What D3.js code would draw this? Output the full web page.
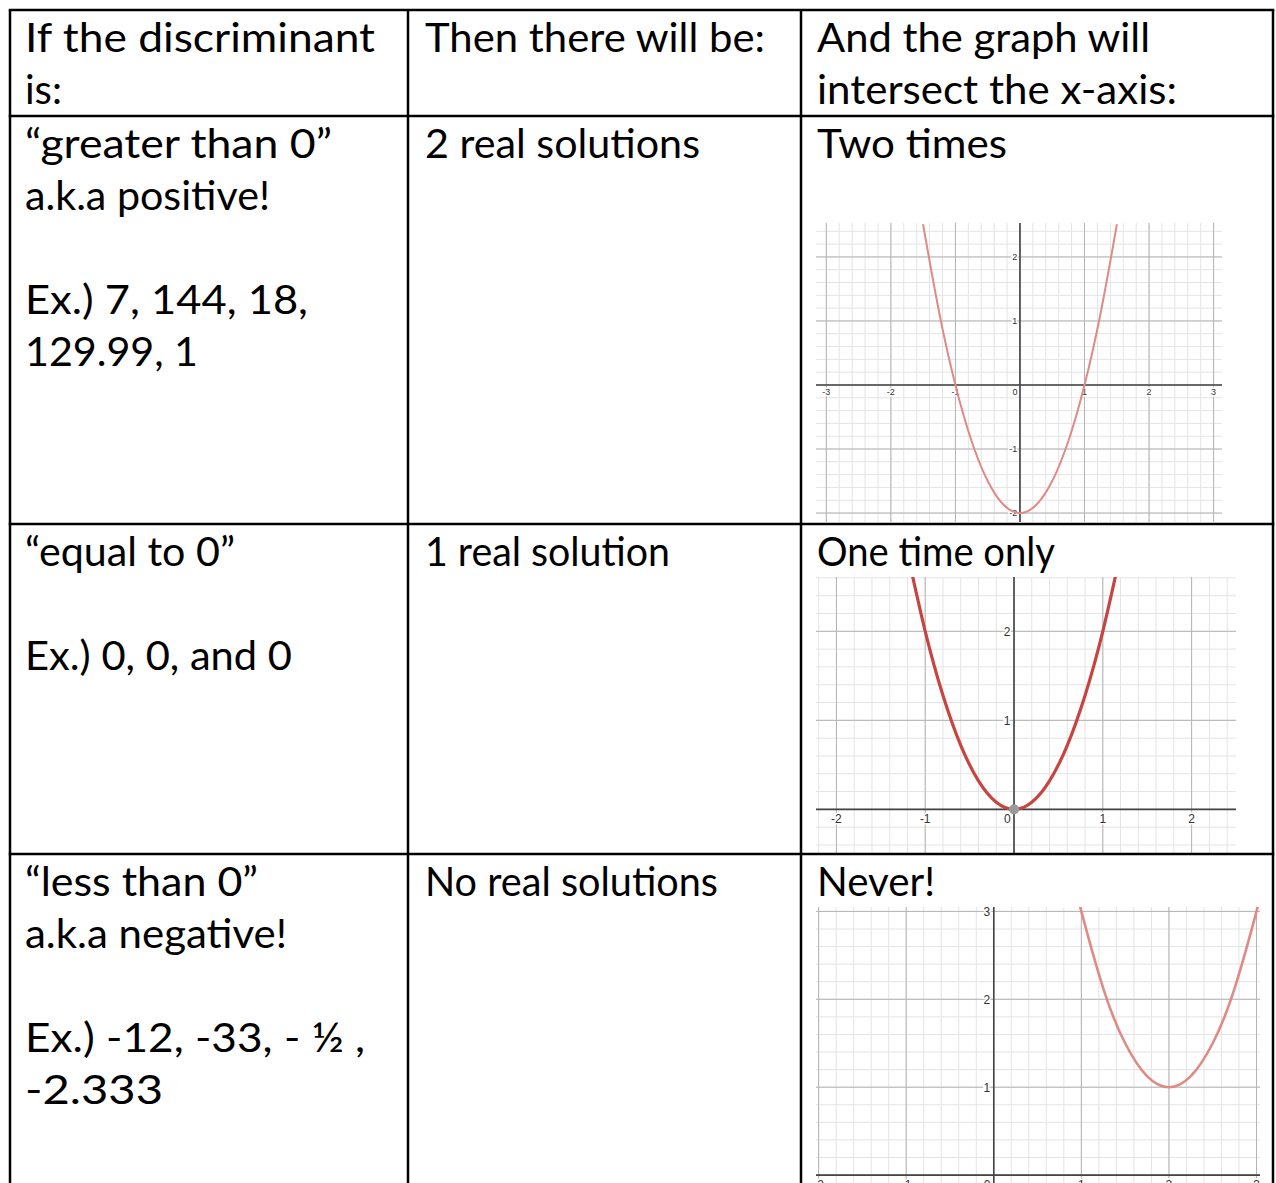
<!DOCTYPE html>
<html>
<head>
<meta charset="utf-8">
<script src="https://cdn.jsdelivr.net/npm/d3@7"></script>
<style>
  body { margin: 0; background: #fff; }
  svg { display: block; }
</style>
</head>
<body>
<div id="chart"></div>
<script>
////////////////////////////////////////////////////////////
//////////////////////// Data //////////////////////////////
////////////////////////////////////////////////////////////
var headers = [
  ["If the discriminant", "is:"],
  ["Then there will be:"],
  ["And the graph will", "intersect the x-axis:"]
];
var discriminantText = [
  ["“greater than 0”", "a.k.a positive!", "", "Ex.) 7, 144, 18,", "129.99, 1"],
  ["“equal to 0”", "", "Ex.) 0, 0, and 0"],
  ["“less than 0”", "a.k.a negative!", "", "Ex.) -12, -33, - ½ ,", "-2.333"]
];
var solutionsText = ["2 real solutions", "1 real solution", "No real solutions"];
var intersectText = ["Two times", "One time only", "Never!"];

var twoTimesX = [-1.5, -1.25, -1, -0.75, -0.5, -0.25, 0, 0.25, 0.5, 0.75, 1, 1.25, 1.5];
var twoTimesY = [2.5, 1.125, 0, -0.875, -1.5, -1.875, -2, -1.875, -1.5, -0.875, 0, 1.125, 2.5];
var oneTimeX = [-1.2, -1, -0.8, -0.6, -0.4, -0.2, 0, 0.2, 0.4, 0.6, 0.8, 1, 1.2];
var oneTimeY = [2.88, 2, 1.28, 0.72, 0.32, 0.08, 0, 0.08, 0.32, 0.72, 1.28, 2, 2.88];
var neverX = [0.95, 1, 1.25, 1.5, 1.75, 2, 2.25, 2.5, 2.75, 3, 3.05];
var neverY = [3.2, 3, 2.125, 1.5, 1.125, 1, 1.125, 1.5, 2.125, 3, 3.2];

// tick labels
var twoTimesXTicks = [-3, -2, -1, 0, 1, 2, 3];
var twoTimesYTicks = [-2, -1, 1, 2];
var oneTimeXTicks = [-2, -1, 0, 1, 2];
var oneTimeYTicks = [1, 2];
var neverXTicks = [-2, -1, 0, 1, 2, 3];
var neverYTicks = [1, 2, 3];

////////////////////////////////////////////////////////////
//////////////////////// Set-Up ////////////////////////////
////////////////////////////////////////////////////////////
var width = 1276, height = 1183;
var colX = [10, 408, 801, 1273];
var rowY = [10, 116, 524, 854, 1200];
var lineStep = 52, firstBase = 42;
var font = "Lato, 'Open Sans', sans-serif";

var svg = d3.select("#chart").append("svg")
  .attr("width", width)
  .attr("height", height);

// target widths of each text line (to imitate the narrow hand font)
var widths = {
  "If the discriminant": 350, "is:": 37, "Then there will be:": 340,
  "And the graph will": 333, "intersect the x-axis:": 360,
  "“greater than 0”": 307, "a.k.a positive!": 245, "Ex.) 7, 144, 18,": 283,
  "129.99, 1": 173, "2 real solutions": 275, "Two times": 190,
  "“equal to 0”": 210, "Ex.) 0, 0, and 0": 267, "1 real solution": 245,
  "One time only": 238, "“less than 0”": 233, "a.k.a negative!": 262,
  "Ex.) -12, -33, - ½ ,": 340, "-2.333": 138, "No real solutions": 293,
  "Never!": 118
};

function writeLines(lines, x, top) {
  lines.forEach(function(t, i) {
    if (!t) return;
    var txt = svg.append("text")
      .attr("x", x)
      .attr("y", top + firstBase + i * lineStep)
      .style("font-family", font)
      .style("font-weight", 400)
      .style("font-size", "40px")
      .style("fill", "#000")
      .text(t);
    if (widths[t]) txt.attr("textLength", widths[t]).attr("lengthAdjust", "spacingAndGlyphs");
  });
}

var textX = [25, 425, 817];
headers.forEach(function(h, i) { writeLines(h, textX[i], rowY[0]); });
for (var r = 0; r < 3; r++) {
  writeLines(discriminantText[r], textX[0], rowY[r + 1]);
  writeLines([solutionsText[r]], textX[1], rowY[r + 1]);
  writeLines([intersectText[r]], textX[2], rowY[r + 1]);
}

////////////////////////////////////////////////////////////
//////////////////////// Graphs ////////////////////////////
////////////////////////////////////////////////////////////
var graphs = [
  { id: "g1", xd: [-3.16, 3.13], yd: [-2.14, 2.53], xr: [816, 1222], yr: [522, 223],
    xs: twoTimesX, ys: twoTimesY, xt: twoTimesXTicks, yt: twoTimesYTicks,
    color: "#df8a84", lw: 2, fs: 9, pt: false },
  { id: "g2", xd: [-2.23, 2.5], yd: [-0.49, 2.61], xr: [816, 1236], yr: [853, 577],
    xs: oneTimeX, ys: oneTimeY, xt: oneTimeXTicks, yt: oneTimeYTicks,
    color: "#c74440", lw: 3.2, fs: 12, pt: true },
  { id: "g3", xd: [-2.03, 3.04], yd: [-0.09, 3.05], xr: [816, 1260], yr: [1183, 907],
    xs: neverX, ys: neverY, xt: neverXTicks, yt: neverYTicks,
    color: "#df8a84", lw: 2.6, fs: 12, pt: false }
];

var defs = svg.append("defs");

graphs.forEach(function(g) {
  var x = d3.scaleLinear().domain(g.xd).range(g.xr);
  var y = d3.scaleLinear().domain(g.yd).range(g.yr);

  defs.append("clipPath").attr("id", "clip-" + g.id)
    .append("rect")
    .attr("x", g.xr[0]).attr("y", g.yr[1])
    .attr("width", g.xr[1] - g.xr[0]).attr("height", g.yr[0] - g.yr[1]);

  var grp = svg.append("g").attr("clip-path", "url(#clip-" + g.id + ")");

  // minor grid (every 0.2)
  var minorX = d3.range(Math.ceil(g.xd[0] * 5), Math.floor(g.xd[1] * 5) + 1).map(function(i) { return i / 5; });
  var minorY = d3.range(Math.ceil(g.yd[0] * 5), Math.floor(g.yd[1] * 5) + 1).map(function(i) { return i / 5; });
  var majorX = minorX.filter(function(v) { return Math.abs(v - Math.round(v)) < 1e-9; });
  var majorY = minorY.filter(function(v) { return Math.abs(v - Math.round(v)) < 1e-9; });

  grp.selectAll(".minx").data(minorX).enter().append("line")
    .attr("x1", d => x(d)).attr("x2", d => x(d))
    .attr("y1", g.yr[1]).attr("y2", g.yr[0])
    .style("stroke", "#e4e4e4").style("stroke-width", 1);
  grp.selectAll(".miny").data(minorY).enter().append("line")
    .attr("y1", d => y(d)).attr("y2", d => y(d))
    .attr("x1", g.xr[0]).attr("x2", g.xr[1])
    .style("stroke", "#e4e4e4").style("stroke-width", 1);
  grp.selectAll(".majx").data(majorX).enter().append("line")
    .attr("x1", d => x(d)).attr("x2", d => x(d))
    .attr("y1", g.yr[1]).attr("y2", g.yr[0])
    .style("stroke", "#b4b4b4").style("stroke-width", 1);
  grp.selectAll(".majy").data(majorY).enter().append("line")
    .attr("y1", d => y(d)).attr("y2", d => y(d))
    .attr("x1", g.xr[0]).attr("x2", g.xr[1])
    .style("stroke", "#b4b4b4").style("stroke-width", 1);

  // axes
  grp.append("line")
    .attr("x1", x(0)).attr("x2", x(0)).attr("y1", g.yr[1]).attr("y2", g.yr[0])
    .style("stroke", "#444").style("stroke-width", 1.6);
  grp.append("line")
    .attr("y1", y(0)).attr("y2", y(0)).attr("x1", g.xr[0]).attr("x2", g.xr[1])
    .style("stroke", "#444").style("stroke-width", 1.6);

  // tick labels
  grp.selectAll(".xl").data(g.xt).enter().append("text")
    .attr("x", d => d === 0 ? x(0) - g.fs * 0.55 : x(d))
    .attr("y", y(0) + g.fs * 1.15)
    .attr("text-anchor", "middle")
    .style("font-family", "Arial, 'Liberation Sans', sans-serif")
    .style("font-size", g.fs + "px")
    .style("fill", "#333")
    .style("paint-order", "stroke").style("stroke", "#fff").style("stroke-width", 3)
    .text(d => d);
  grp.selectAll(".yl").data(g.yt).enter().append("text")
    .attr("x", x(0) - g.fs * 0.3)
    .attr("y", d => y(d) + g.fs * 0.36)
    .attr("text-anchor", "end")
    .style("font-family", "Arial, 'Liberation Sans', sans-serif")
    .style("font-size", g.fs + "px")
    .style("fill", "#333")
    .style("paint-order", "stroke").style("stroke", "#fff").style("stroke-width", 3)
    .text(d => d);

  // the parabola
  var pts = g.xs.map(function(v, i) { return [v, g.ys[i]]; });
  var line = d3.line().x(d => x(d[0])).y(d => y(d[1])).curve(d3.curveNatural);
  grp.append("path")
    .attr("d", line(pts))
    .style("fill", "none")
    .style("stroke", g.color)
    .style("stroke-width", g.lw)
    .style("stroke-linecap", "round");

  if (g.pt) {
    grp.append("circle")
      .attr("cx", x(0)).attr("cy", y(0)).attr("r", 5)
      .style("fill", "#9a9a9a");
  }
});

////////////////////////////////////////////////////////////
//////////////////////// Table lines ///////////////////////
////////////////////////////////////////////////////////////
colX.forEach(function(cx) {
  svg.append("line")
    .attr("x1", cx).attr("x2", cx).attr("y1", rowY[0]).attr("y2", height + 5)
    .style("stroke", "#000").style("stroke-width", 2.5);
});
rowY.slice(0, 4).forEach(function(ry) {
  svg.append("line")
    .attr("x1", colX[0] - 1.25).attr("x2", colX[3] + 1.25).attr("y1", ry).attr("y2", ry)
    .style("stroke", "#000").style("stroke-width", 2.5);
});
</script>
</body>
</html>
